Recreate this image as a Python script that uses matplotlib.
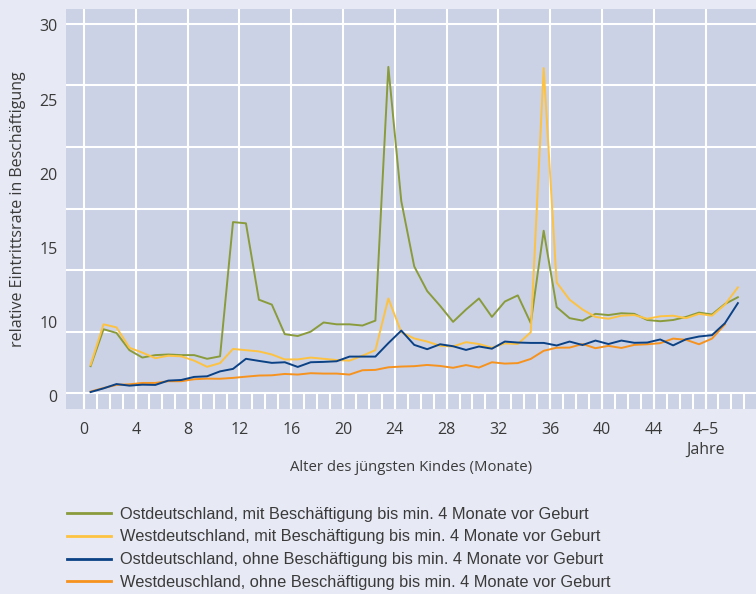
import numpy as np
import matplotlib
matplotlib.use("Agg")
import matplotlib.pyplot as plt

# months (mid-month positions) and the four series
months = np.arange(51) + 0.5

ost_mit = [2.2, 5.2, 4.9, 3.5, 2.9, 3.1, 3.15, 3.1, 3.1, 2.8,
           3.0, 13.9, 13.8, 7.6, 7.2, 4.8, 4.65, 5.0, 5.75, 5.6,
           5.6, 5.5, 5.9, 26.5, 15.6, 10.3, 8.3, 7.1, 5.8, 6.8,
           7.7, 6.2, 7.45, 7.95, 5.7, 13.2, 7.0, 6.1, 5.9, 6.45,
           6.35, 6.5, 6.45, 5.95, 5.85, 5.95, 6.2, 6.55, 6.4, 7.25,
           7.8]
west_mit = [2.3, 5.6, 5.35, 3.7, 3.3, 2.85, 3.05, 3.0, 2.65, 2.15,
            2.45, 3.6, 3.5, 3.4, 3.15, 2.75, 2.75, 2.9, 2.8, 2.7,
            2.65, 3.05, 3.5, 7.7, 4.95, 4.45, 4.2, 3.85, 3.8, 4.15,
            4.0, 3.7, 4.05, 4.0, 4.95, 26.4, 9.0, 7.6, 6.8, 6.2,
            6.05, 6.3, 6.35, 6.05, 6.25, 6.3, 6.1, 6.45, 6.3, 7.2,
            8.6]
ost_ohne = [0.1, 0.4, 0.75, 0.62, 0.7, 0.68, 1.03, 1.08, 1.33, 1.38,
            1.78, 1.98, 2.8, 2.63, 2.47, 2.52, 2.14, 2.52, 2.55, 2.6,
            2.98, 2.98, 2.98, 4.07, 5.09, 3.93, 3.58, 3.98, 3.82, 3.52,
            3.8, 3.62, 4.2, 4.12, 4.09, 4.09, 3.88, 4.2, 3.92, 4.28,
            4.0, 4.28, 4.1, 4.12, 4.37, 3.89, 4.39, 4.61, 4.72, 5.69,
            7.32]
west_ohne = [0.14, 0.43, 0.68, 0.73, 0.84, 0.84, 0.98, 0.98, 1.14, 1.19,
             1.18, 1.25, 1.35, 1.44, 1.46, 1.57, 1.52, 1.63, 1.6, 1.6,
             1.52, 1.87, 1.9, 2.11, 2.17, 2.2, 2.3, 2.22, 2.07, 2.29,
             2.09, 2.52, 2.41, 2.45, 2.79, 3.45, 3.7, 3.71, 4.0, 3.66,
             3.85, 3.68, 3.93, 3.98, 4.07, 4.44, 4.34, 3.98, 4.44, 5.6,
             np.nan]

labels = [
    "Ostdeutschland, mit Beschäftigung bis min. 4 Monate vor Geburt",
    "Westdeutschland, mit Beschäftigung bis min. 4 Monate vor Geburt",
    "Ostdeutschland, ohne Beschäftigung bis min. 4 Monate vor Geburt",
    "Westdeuschland, ohne Beschäftigung bis min. 4 Monate vor Geburt",
]
colors = ["#8a9b3c", "#fdc241", "#0b4185", "#f6921e"]

x_ticks = list(range(0, 49, 4))
x_ticklabels = [str(t) for t in range(0, 45, 4)] + ["4–5"]
y_tick_pos = [-0.2, 5.8, 11.8, 17.8, 23.8, 29.9]
y_ticklabels = ["0", "10", "15", "20", "25", "30"]

text_col = "#3a3a3a"
plt.rcParams["font.family"] = ["Open Sans", "DejaVu Sans"]

fig = plt.figure(figsize=(7.56, 5.94), dpi=100, facecolor="#e7e9f4")
ax = fig.add_axes([66 / 756, 1 - 409.3 / 594, 1 - 66 / 756, (409.3 - 9) / 594])
ax.set_facecolor("#cbd2e5")

ax.set_xlim(-1.4, 51.9)
ax.set_ylim(-1.3, 31.2)

# grid
for g in range(0, 31, 5):
    ax.axhline(g, color="white", lw=1.5, zorder=1)
for g in x_ticks:
    ax.axvline(g, color="white", lw=1.5, zorder=1)
ax.vlines(np.arange(0, 53), -1.3, 0, color="white", lw=1.5, zorder=1)

series = [ost_mit, west_mit, west_ohne, ost_ohne]
order_cols = [colors[0], colors[1], colors[3], colors[2]]
for s, c in zip(series, order_cols):
    ax.plot(months, s, color=c, lw=1.4, zorder=3)

for sp in ax.spines.values():
    sp.set_visible(False)

ax.set_xticks(x_ticks)
ax.set_xticklabels(x_ticklabels)
ax.set_yticks(y_tick_pos)
ax.set_yticklabels(y_ticklabels)
ax.tick_params(length=0, labelsize=11.5, colors=text_col, pad=6)
ax.tick_params(axis="x", pad=9)

ax.text(48, -3.95, "Jahre", ha="center", va="top", fontsize=11.5, color=text_col)
ax.set_xlabel("Alter des jüngsten Kindes (Monate)", fontsize=10.7, color=text_col, labelpad=16)
ax.set_ylabel("relative Eintrittsrate in Beschäftigung", fontsize=11.5, color=text_col, labelpad=10)

handles = [plt.Line2D([], [], color=c, lw=2) for c in colors]
leg = fig.legend(handles, labels, loc="upper left", bbox_to_anchor=(60 / 756, 1 - 500 / 594),
                 frameon=False, fontsize=11.8, handlelength=2.7, labelspacing=0.48,
                 handletextpad=0.55, borderaxespad=0)
for t in leg.get_texts():
    t.set_color(text_col)
    t.set_family(["Liberation Sans", "DejaVu Sans"])

fig.savefig("out.png", dpi=100, facecolor=fig.get_facecolor())
